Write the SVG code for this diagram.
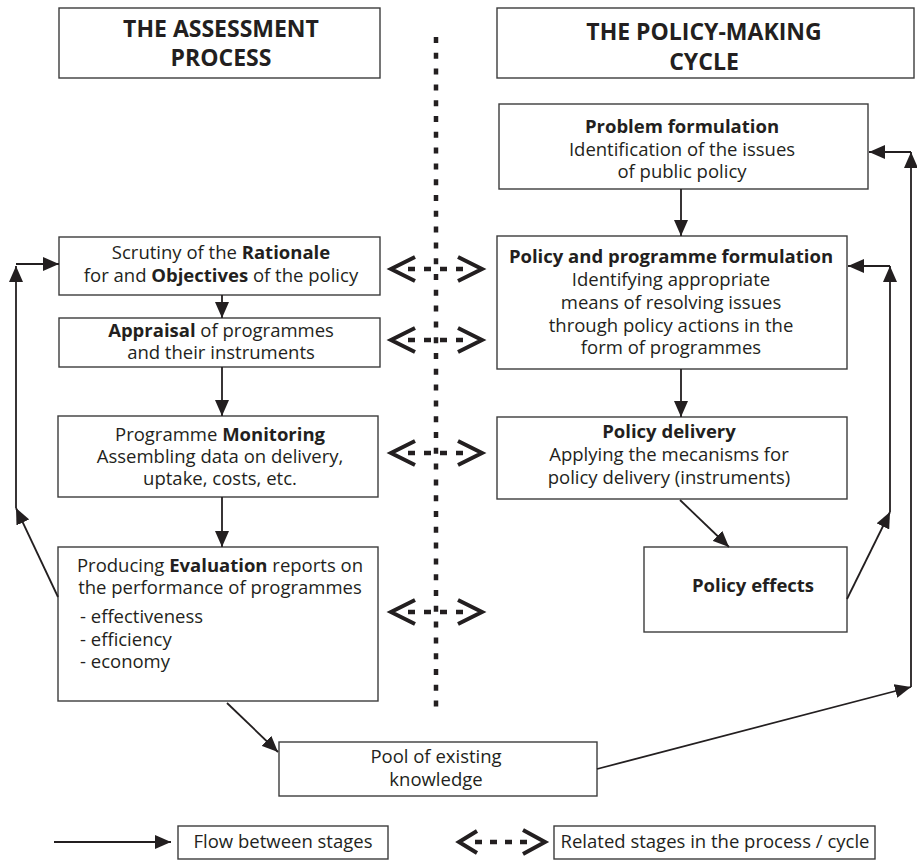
<svg xmlns="http://www.w3.org/2000/svg" width="917" height="860" viewBox="0 0 917 860">
<defs>
<style>
text{font-family:"Open Sans","Liberation Sans",sans-serif;fill:#231f20;font-size:18.5px;text-anchor:middle}
.t{font-size:23px;font-weight:bold}
.b{font-weight:bold}
.l{text-anchor:start}
.box{fill:#fff;stroke:#3c3c3c;stroke-width:1.4}
.flow{fill:none;stroke:#231f20;stroke-width:1.8;marker-end:url(#ah)}
.chev{fill:none;stroke:#231f20;stroke-width:4}
.dash{stroke:#231f20;stroke-width:4.5}
.dot{stroke:#231f20;stroke-width:4.5;stroke-dasharray:6 9.8}
</style>
<marker id="ah" markerWidth="16" markerHeight="14" refX="16" refY="7" orient="auto" markerUnits="userSpaceOnUse">
<path d="M0,0 L16,7 L0,14 z" fill="#231f20"/>
</marker>
</defs>
<rect width="917" height="860" fill="#fff"/>

<g id="divider">
<line class="dot" x1="436" y1="37" x2="436" y2="716"/>
</g>

<g id="title-assessment">
<rect class="box" x="59" y="8" width="321" height="70"/>
<text class="t" x="221" y="37">THE ASSESSMENT</text>
<text class="t" x="221" y="66">PROCESS</text>
</g>
<g id="title-policy">
<rect class="box" x="497" y="8" width="417" height="70"/>
<text class="t" x="704" y="40">THE POLICY-MAKING</text>
<text class="t" x="704" y="70">CYCLE</text>
</g>

<g id="scrutiny">
<rect class="box" x="59" y="237" width="321" height="58"/>
<text x="221" y="259">Scrutiny of the <tspan class="b">Rationale</tspan></text>
<text x="221" y="282">for and <tspan class="b">Objectives</tspan> of the policy</text>
</g>
<g id="appraisal">
<rect class="box" x="59" y="318" width="321" height="49"/>
<text x="221" y="337"><tspan class="b">Appraisal</tspan> of programmes</text>
<text x="221" y="359">and their instruments</text>
</g>
<g id="monitoring">
<rect class="box" x="58" y="416" width="320" height="81"/>
<text x="220" y="441">Programme <tspan class="b">Monitoring</tspan></text>
<text x="220" y="463">Assembling data on delivery,</text>
<text x="220" y="485">uptake, costs, etc.</text>
</g>
<g id="evaluation">
<rect class="box" x="58" y="547" width="320" height="154"/>
<text x="220" y="572">Producing <tspan class="b">Evaluation</tspan> reports on</text>
<text x="220" y="594">the performance of programmes</text>
<text class="l" x="80" y="623">- effectiveness</text>
<text class="l" x="80" y="646">- efficiency</text>
<text class="l" x="80" y="668">- economy</text>
</g>
<g id="pool">
<rect class="box" x="279" y="742" width="318" height="54"/>
<text x="436" y="763">Pool of existing</text>
<text x="436" y="786">knowledge</text>
</g>

<g id="problem">
<rect class="box" x="499" y="104" width="369" height="85"/>
<text class="b" x="682" y="133">Problem formulation</text>
<text x="682" y="156">Identification of the issues</text>
<text x="682" y="178">of public policy</text>
</g>
<g id="formulation">
<rect class="box" x="497" y="236" width="350" height="133"/>
<text class="b" x="671" y="263">Policy and programme formulation</text>
<text x="671" y="286">Identifying appropriate</text>
<text x="671" y="309">means of resolving issues</text>
<text x="671" y="332">through policy actions in the</text>
<text x="671" y="354">form of programmes</text>
</g>
<g id="delivery">
<rect class="box" x="497" y="417" width="350" height="82"/>
<text class="b" x="669" y="438">Policy delivery</text>
<text x="669" y="461">Applying the mecanisms for</text>
<text x="669" y="484">policy delivery (instruments)</text>
</g>
<g id="effects">
<rect class="box" x="644" y="547" width="203" height="85"/>
<text class="b" x="753" y="592">Policy effects</text>
</g>

<g id="connectors">
<line class="flow" x1="222" y1="295" x2="222" y2="318"/>
<line class="flow" x1="222" y1="367" x2="222" y2="416"/>
<line class="flow" x1="222" y1="497" x2="222" y2="547"/>
<line class="flow" x1="227" y1="703" x2="278" y2="752"/>
<line class="flow" x1="58" y1="597" x2="16" y2="508"/>
<line class="flow" x1="16" y1="508" x2="16" y2="266"/>
<line class="flow" x1="16" y1="264" x2="59" y2="264"/>

<line class="flow" x1="681" y1="189" x2="681" y2="236"/>
<line class="flow" x1="681" y1="369" x2="681" y2="417"/>
<line class="flow" x1="680" y1="500" x2="729" y2="547"/>
<line class="flow" x1="847" y1="599" x2="890" y2="512"/>
<line class="flow" x1="890" y1="512" x2="890" y2="266"/>
<line class="flow" x1="890" y1="266" x2="848" y2="266"/>
<line class="flow" x1="597" y1="769" x2="911" y2="687"/>
<line class="flow" x1="911" y1="687" x2="911" y2="152"/>
<line class="flow" x1="911" y1="152" x2="869" y2="152"/>

<g id="related-1">
<line class="dash" x1="408" y1="269" x2="463" y2="269" stroke-dasharray="7 9"/>
<polyline class="chev" points="415,257 391,269 415,281"/>
<polyline class="chev" points="458,257 482,269 458,281"/>
</g>
<g id="related-2">
<line class="dash" x1="408" y1="340" x2="463" y2="340" stroke-dasharray="7 9"/>
<polyline class="chev" points="415,328 391,340 415,352"/>
<polyline class="chev" points="458,328 482,340 458,352"/>
</g>
<g id="related-3">
<line class="dash" x1="408" y1="453" x2="463" y2="453" stroke-dasharray="7 9"/>
<polyline class="chev" points="415,441 391,453 415,465"/>
<polyline class="chev" points="458,441 482,453 458,465"/>
</g>
<g id="related-4">
<line class="dash" x1="408" y1="612" x2="463" y2="612" stroke-dasharray="7 9"/>
<polyline class="chev" points="415,600 391,612 415,624"/>
<polyline class="chev" points="458,600 482,612 458,624"/>
</g>
</g>

<g id="legend">
<line class="flow" x1="54" y1="842" x2="171" y2="842"/>
<rect class="box" x="178" y="826" width="210" height="33"/>
<text x="283" y="848">Flow between stages</text>
<line class="dash" x1="475" y1="842" x2="527" y2="842" stroke-dasharray="7 8"/>
<polyline class="chev" points="477,831 459,842 477,853"/>
<polyline class="chev" points="523,830 545,842 523,854"/>
<rect class="box" x="554" y="826" width="321" height="33"/>
<text x="715" y="848">Related stages in the process / cycle</text>
</g>
</svg>
